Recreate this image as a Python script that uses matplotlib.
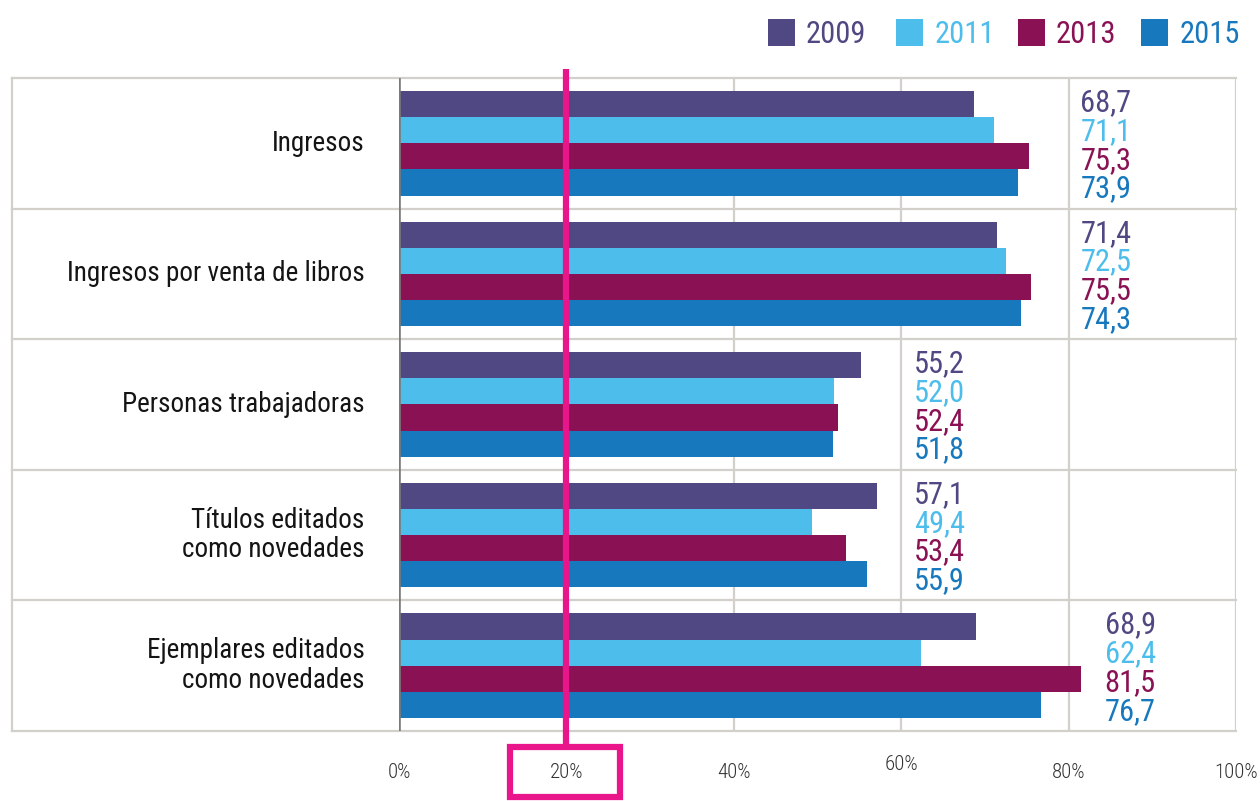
import matplotlib
matplotlib.use("Agg")
import matplotlib.pyplot as plt
from matplotlib.patches import Rectangle
import matplotlib.transforms as mtransforms

plt.rcParams['font.family'] = ['Roboto Condensed', 'Roboto', 'DejaVu Sans']

# ---------------- data ----------------
categories = ["Ingresos", "Ingresos por venta de libros", "Personas trabajadoras",
              "Títulos editados\ncomo novedades", "Ejemplares editados\ncomo novedades"]
series_names = ["2009", "2011", "2013", "2015"]
v2009 = [68.7, 71.4, 55.2, 57.1, 68.9]
v2011 = [71.1, 72.5, 52.0, 49.4, 62.4]
v2013 = [75.3, 75.5, 52.4, 53.4, 81.5]
v2015 = [73.9, 74.3, 51.8, 55.9, 76.7]
series_values = [v2009, v2011, v2013, v2015]
tick_values = [0, 20, 40, 60, 80, 100]
tick_labels = ["0%", "20%", "40%", "60%", "80%", "100%"]
highlight_value = 20

# ---------------- style / layout ----------------
colors = ["#4F4882", "#4DBDEB", "#8A1254", "#1778BD"]
magenta = "#E8168A"
grid_c = "#D3CFCA"
label_x = [81.4, 81.4, 61.5, 61.5, 84.3]   # x position of value-label column per group

W, H = 1260, 801
fig = plt.figure(figsize=(W / 100, H / 100), dpi=100)
ax_l, ax_r, ax_t, ax_b = 399, 1236, 78, 731
ax = fig.add_axes([ax_l / W, 1 - ax_b / H, (ax_r - ax_l) / W, (ax_b - ax_t) / H])
ax.set_xlim(0, 100)
ax.set_ylim(len(categories) - 0.5, -0.5)
for s in ax.spines.values():
    s.set_visible(False)
ax.set_xticks([])
ax.set_yticks([])

px_per_unit = (ax_r - ax_l) / 100.0
x_left_border = (12 - ax_l) / px_per_unit

# grid lines
for k in range(len(categories) + 1):
    y = k - 0.5
    ax.plot([x_left_border, 100], [y, y], color=grid_c, lw=1.6, clip_on=False, zorder=1)
ax.plot([x_left_border, x_left_border], [-0.5, len(categories) - 0.5], color=grid_c,
        lw=1.6, clip_on=False, zorder=1)
for xv in [40, 60, 80, 100]:
    ax.plot([xv, xv], [-0.5, len(categories) - 0.5], color=grid_c, lw=1.6, zorder=1)

# bars
bh = 0.2
n = len(series_names)
for i, (vals, c) in enumerate(zip(series_values, colors)):
    ys = [j + (i - (n - 1) / 2) * bh for j in range(len(categories))]
    ax.barh(ys, vals, height=bh, color=c, edgecolor='none', zorder=2)

# zero axis
ax.plot([0, 0], [-0.5, len(categories) - 0.5], color="#7A7A7A", lw=2.6, zorder=3)

# value labels
for j in range(len(categories)):
    for i, (vals, c) in enumerate(zip(series_values, colors)):
        y = j + (i - (n - 1) / 2) * 0.22 + 0.084
        ax.text(label_x[j], y, f"{vals[j]:.1f}".replace(".", ","), color=c,
                fontsize=22, ha='left', va='baseline', zorder=4)

# category labels
for j, cat in enumerate(categories):
    ax.text(-4.1, j, cat, ha='right', va='center', multialignment='right',
            fontsize=19.5, color="#141414", linespacing=1.12)

# tick labels
ty = [-0.064, -0.064, -0.064, -0.052, -0.064, -0.064]
bt = mtransforms.blended_transform_factory(ax.transData, ax.transAxes)
for tv, tl, yy in zip(tick_values, tick_labels, ty):
    ax.text(tv, yy, tl, transform=bt, ha='center', va='center', fontsize=15,
            fontweight='light', color="#333333")

# highlight line and box
y_top = (ax_b - 69) / (ax_b - ax_t)
y_bot = (ax_b - 747) / (ax_b - ax_t)
ax.plot([highlight_value, highlight_value], [y_bot, y_top], color=magenta, lw=4.5,
        transform=bt, clip_on=False, zorder=5, solid_capstyle='butt')
fig.add_artist(Rectangle((510 / W, 1 - 797 / H), (620 - 510) / W, (797 - 747) / H,
                         transform=fig.transFigure, fill=False, edgecolor=magenta,
                         lw=4.5, zorder=6))

# legend
sq_x = [768, 896, 1018, 1141]
tx_x = [806, 935, 1056, 1180]
for name, c, sx, tx in zip(series_names, colors, sq_x, tx_x):
    fig.add_artist(Rectangle((sx / W, 1 - 46 / H), 27 / W, 27 / H, transform=fig.transFigure,
                             facecolor=c, edgecolor='none'))
    fig.text(tx / W, 1 - 43 / H, name, color=c, fontsize=22, ha='left', va='baseline')

fig.savefig("out.png", dpi=100)
